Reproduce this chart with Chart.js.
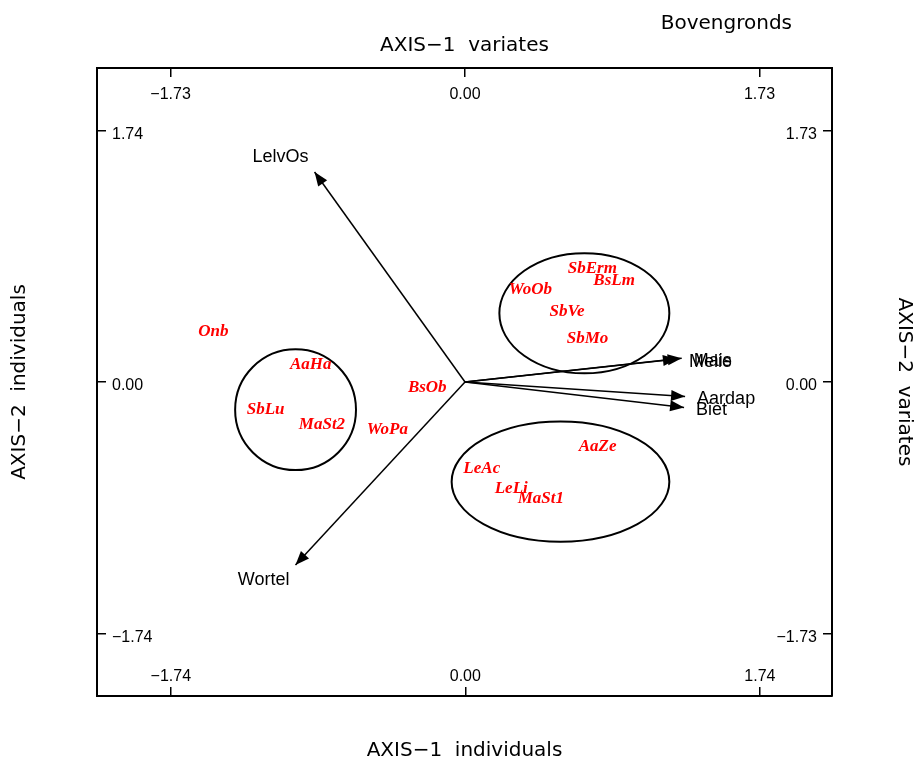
<!DOCTYPE html>
<html>
<head>
<meta charset="utf-8">
<title>Bovengronds biplot</title>
<script src="https://cdn.jsdelivr.net/npm/chart.js@4.4.1/dist/chart.umd.min.js"></script>
<style>
  html, body { margin: 0; padding: 0; background: #fff; overflow: hidden; }
  canvas { display: block; }
</style>
</head>
<body>
<canvas id="biplot" width="917" height="767"></canvas>
<script>
// Individuals (plot scores on axes 1 and 2)
const indivNames = ['Onb', 'AaHa', 'SbLu', 'MaSt2', 'WoPa', 'BsOb', 'SbErm', 'BsLm', 'WoOb', 'SbVe', 'SbMo', 'AaZe', 'LeAc', 'LeLi', 'MaSt1'];
const indivX = [-1.489, -0.913, -1.180, -0.847, -0.461, -0.225, 0.750, 0.879, 0.384, 0.601, 0.722, 0.781, 0.097, 0.271, 0.446];
const indivY = [0.348, 0.121, -0.188, -0.294, -0.330, -0.042, 0.787, 0.701, 0.637, 0.487, 0.303, -0.448, -0.601, -0.740, -0.806];

// Variates (crop loadings on axes 1 and 2)
const variateNames = ['LelvOs', 'Wortel', 'Melie', 'Mais', 'Aardap', 'Biet'];
const variateX = [-0.884, -0.996, 1.245, 1.273, 1.293, 1.287];
const variateY = [1.445, -1.259, 0.158, 0.163, -0.100, -0.175];

// Group ellipses (centre and semi-axes, in individual units)
const ellipseCx = [0.703, -1.003, 0.562];
const ellipseCy = [0.476, -0.192, -0.690];
const ellipseRx = [0.502, 0.357, 0.643];
const ellipseRy = [0.416, 0.418, 0.416];

// Tick values
const indivTicksX = [-1.74, 0, 1.74];
const indivTicksY = [-1.74, 0, 1.74];
const variateTicksX = [-1.73, 0, 1.73];
const variateTicksY = [-1.73, 0, 1.73];

const chartTitle = 'Bovengronds';

const fmt = v => (v < 0 ? '\u2212' : '') + Math.abs(v).toFixed(2);
const tickFont = { family: 'Liberation Sans', size: 16 };
const titleFont = { family: 'DejaVu Sans', size: 20 };

function makeAxis(position, min, max, tickValues, size, tickPadding, labelOffset, title, titlePadding) {
  const horizontal = position === 'top' || position === 'bottom';
  return {
    type: 'linear',
    position,
    min, max,
    afterBuildTicks: s => { s.ticks = tickValues.map(v => ({ value: v })); },
    afterFit: s => { if (horizontal) s.height = size; else s.width = size; },
    grid: { display: true, drawOnChartArea: false, drawTicks: true, tickLength: -9, color: '#000', lineWidth: 1.5 },
    border: { display: true, color: '#000', width: 2 },
    ticks: { mirror: true, padding: tickPadding, labelOffset, font: tickFont, color: '#000', callback: fmt, autoSkip: false, maxRotation: 0, minRotation: 0 },
    title: { display: true, text: title, font: titleFont, color: '#000', padding: titlePadding }
  };
}

// Group ellipses drawn behind the marks
const ellipsePlugin = {
  id: 'groupEllipses',
  beforeDatasetsDraw(chart) {
    const { ctx, scales: { x, y } } = chart;
    ctx.save();
    ctx.strokeStyle = '#000';
    ctx.lineWidth = 2;
    ellipseCx.forEach((cx, i) => {
      const px = x.getPixelForValue(cx);
      const py = y.getPixelForValue(ellipseCy[i]);
      const rx = Math.abs(x.getPixelForValue(cx + ellipseRx[i]) - px);
      const ry = Math.abs(y.getPixelForValue(ellipseCy[i] + ellipseRy[i]) - py);
      ctx.beginPath();
      ctx.ellipse(px, py, rx, ry, 0, 0, Math.PI * 2);
      ctx.stroke();
    });
    ctx.restore();
  }
};

// Arrowheads and names for the variates, names for the individuals
const labelPlugin = {
  id: 'biplotLabels',
  afterDatasetsDraw(chart) {
    const ctx = chart.ctx;
    chart.data.datasets.forEach((ds, i) => {
      const pts = chart.getDatasetMeta(i).data;
      if (ds.role === 'variate') {
        const a = pts[0], b = pts[1];
        const dx = b.x - a.x, dy = b.y - a.y;
        const ang = Math.atan2(dy, dx);
        ctx.save();
        ctx.translate(b.x, b.y);
        ctx.rotate(ang);
        ctx.beginPath();
        ctx.moveTo(0, 0);
        ctx.lineTo(-14, -5.5);
        ctx.lineTo(-14, 5.5);
        ctx.closePath();
        ctx.fillStyle = '#000';
        ctx.fill();
        ctx.restore();

        ctx.save();
        ctx.font = '18px "Liberation Sans"';
        ctx.fillStyle = '#000';
        ctx.textBaseline = 'middle';
        if (Math.abs(dx) > Math.abs(dy)) {
          ctx.textAlign = dx > 0 ? 'left' : 'right';
          ctx.fillText(ds.label, b.x + Math.sign(dx) * 12, b.y + 3);
        } else {
          ctx.textAlign = 'right';
          ctx.fillText(ds.label, b.x - 6, b.y + (dy < 0 ? -15 : 15));
        }
        ctx.restore();
      } else if (ds.role === 'individual') {
        ctx.save();
        ctx.font = 'italic bold 17px "Liberation Serif"';
        ctx.fillStyle = '#ff0000';
        ctx.textAlign = 'center';
        ctx.textBaseline = 'middle';
        pts.forEach((p, j) => ctx.fillText(indivNames[j], p.x, p.y));
        ctx.restore();
      }
    });
    // heading in the upper right corner
    ctx.save();
    ctx.font = '20px "DejaVu Sans"';
    ctx.fillStyle = '#000';
    ctx.textAlign = 'right';
    ctx.textBaseline = 'middle';
    ctx.fillText(chartTitle, chart.chartArea.right - 40, 24);
    ctx.restore();
  }
};

const datasets = [{
  role: 'individual',
  label: 'Individuals',
  data: indivX.map((x, i) => ({ x, y: indivY[i] })),
  xAxisID: 'x', yAxisID: 'y',
  pointRadius: 0,
  showLine: false
}];
variateNames.forEach((name, i) => {
  datasets.push({
    role: 'variate',
    label: name,
    data: [{ x: 0, y: 0 }, { x: variateX[i], y: variateY[i] }],
    xAxisID: 'x2', yAxisID: 'y2',
    showLine: true,
    borderColor: '#000',
    borderWidth: 1.5,
    pointRadius: 0,
    fill: false
  });
});

Chart.defaults.font.family = 'DejaVu Sans';
Chart.defaults.color = '#000';

new Chart(document.getElementById('biplot'), {
  type: 'scatter',
  data: { datasets },
  options: {
    responsive: false,
    devicePixelRatio: 1,
    animation: false,
    events: [],
    layout: { padding: 0 },
    plugins: { legend: { display: false }, tooltip: { enabled: false }, title: { display: false } },
    scales: {
      x: makeAxis('bottom', -2.176, 2.166, indivTicksX, 71, 10, 0, 'AXIS\u22121  individuals', { top: 0, bottom: 4 }),
      x2: makeAxis('top', -2.162, 2.156, variateTicksX, 68, 17, 0, 'AXIS\u22121  variates', { top: 34, bottom: 0 }),
      y: makeAxis('left', -2.174, 2.174, indivTicksY, 97, 15, 4, 'AXIS\u22122  individuals', { top: 8, bottom: 0 }),
      y2: makeAxis('right', -2.161, 2.161, variateTicksY, 85, -15, 4, 'AXIS\u22122  variates', { top: 1, bottom: 0 })
    }
  },
  plugins: [ellipsePlugin, labelPlugin]
});
</script>
</body>
</html>
